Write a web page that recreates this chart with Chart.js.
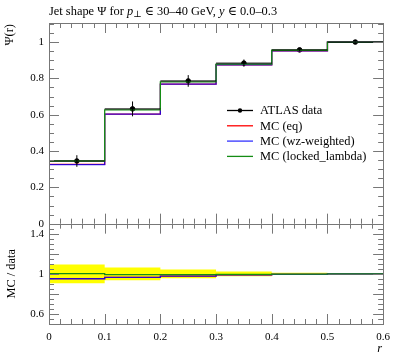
<!DOCTYPE html>
<html>
<head>
<meta charset="utf-8">
<script src="https://cdn.jsdelivr.net/npm/chart.js@4.4.0/dist/chart.umd.min.js"></script>
<style>
  html, body { margin: 0; padding: 0; background: #fff; }
  #wrap { width: 397px; height: 358px; position: relative; }
</style>
</head>
<body>
<div id="wrap"><canvas id="myChart" width="397" height="358"></canvas></div>
<script>
// bins in r
const binEdges = [0, 0.1, 0.2, 0.3, 0.4, 0.5, 0.6];
const binCenters = [0.05, 0.15, 0.25, 0.35, 0.45, 0.55];

// ATLAS data, Psi(r)
const dataVals = [0.345, 0.632, 0.786, 0.884, 0.957, 1.0];
const dataErrs = [0.032, 0.041, 0.032, 0.02, 0.008, 0.003];

// MC predictions
const mcEq = [0.326, 0.603, 0.768, 0.875, 0.952, 1.0];
const mcWz = [0.325, 0.603, 0.768, 0.875, 0.952, 1.0];
const mcLocked = [0.345, 0.627, 0.781, 0.879, 0.955, 1.0];

// ratio panel (MC / data)
const bandLow = [0.905, 0.937, 0.955, 0.975, 0.99, 1.0];
const bandHigh = [1.093, 1.062, 1.042, 1.024, 1.01, 1.0];
const ratioEq = [0.952, 0.965, 0.977, 0.99, 0.995, 1.0];
const ratioWz = [0.951, 0.964, 0.977, 0.99, 0.995, 1.0];
const ratioLocked = [1.003, 0.993, 0.993, 0.995, 0.998, 1.0];

// tick labels
const xTicks = [0, 0.1, 0.2, 0.3, 0.4, 0.5, 0.6];
const mainTicks = [0, 0.2, 0.4, 0.6, 0.8, 1];
const ratioTicks = [0.6, 0.8, 1, 1.2, 1.4];

const SERIF = "'Liberation Serif', 'DejaVu Serif', serif";
const FS = "12.4px ";
const RED = "rgb(255,0,0)";
const BLUE = "rgba(0,0,255,0.8)";
const GREEN = "rgb(20,140,20)";

function steps(vals) {
  const pts = vals.map((v, i) => ({ x: binEdges[i], y: v }));
  pts.push({ x: binEdges[vals.length], y: vals[vals.length - 1] });
  return pts;
}

function fmt(v) {
  return String(Math.round(v * 10) / 10);
}

function histo(label, vals, color, axis, order, legendRow) {
  return {
    type: "line",
    label: label,
    data: steps(vals),
    yAxisID: axis,
    borderColor: color,
    borderWidth: 1.3,
    pointRadius: 0,
    stepped: "before",
    fill: false,
    order: order,
    legendRow: legendRow,
  };
}

const decor = {
  id: "decor",
  afterDatasetsDraw(chart) {
    const ctx = chart.ctx;
    const xs = chart.scales.x;
    chart.data.datasets.forEach((ds) => {
      if (!ds.errY) return;
      const ys = chart.scales[ds.yAxisID];
      ctx.save();
      ctx.strokeStyle = "#000";
      ctx.lineWidth = 1;
      ds.data.forEach((p, j) => {
        const px = xs.getPixelForValue(p.x);
        const py = ys.getPixelForValue(p.y);
        ctx.beginPath();
        ctx.moveTo(px, ys.getPixelForValue(p.y - ds.errY[j]));
        ctx.lineTo(px, ys.getPixelForValue(p.y + ds.errY[j]));
        ctx.moveTo(xs.getPixelForValue(p.x - ds.errX[j]), py);
        ctx.lineTo(xs.getPixelForValue(p.x + ds.errX[j]), py);
        ctx.stroke();
      });
      ctx.restore();
    });
  },
  afterDraw(chart) {
    const ctx = chart.ctx;
    const xs = chart.scales.x;
    const ym = chart.scales.y;
    const yr = chart.scales.y2;
    const L = xs.left, R = xs.right;

    ctx.save();
    ctx.strokeStyle = "#777";
    ctx.lineWidth = 1;

    // frames and ticks for both panels
    [ym, yr].forEach((ys, k) => {
      const T = ys.top, B = ys.bottom;
      ctx.strokeRect(Math.round(L) + 0.5, Math.round(T) + 0.5, Math.round(R - L), Math.round(B - T));
      ctx.beginPath();
      for (let i = 0; i <= 30; i++) {
        const px = Math.round(xs.getPixelForValue(i * 0.02)) + 0.5;
        const len = i % 5 === 0 ? 10 : 5;
        ctx.moveTo(px, B); ctx.lineTo(px, B - len);
        ctx.moveTo(px, T); ctx.lineTo(px, T + len);
      }
      const n = k === 0 ? 22 : 20;
      for (let i = 0; i <= n; i++) {
        let v, major;
        if (k === 0) { v = i * 0.05; major = i % 4 === 0; }
        else { v = 0.5 + i * 0.05; major = (i - 2) % 4 === 0; }
        const py = Math.round(ys.getPixelForValue(v)) + 0.5;
        const len = major ? 10 : 5;
        ctx.moveTo(L, py); ctx.lineTo(L + len, py);
        ctx.moveTo(R, py); ctx.lineTo(R - len, py);
      }
      ctx.stroke();
    });
    ctx.restore();

    // texts
    ctx.save();
    ctx.fillStyle = "#000";
    ctx.textBaseline = "alphabetic";
    const parts = [
      ["Jet shape \u03A8 for ", FS + SERIF, 0],
      ["p", "italic " + FS + SERIF, 0],
      ["\u22A5", "9px " + SERIF, 2],
      [" \u2208 30\u201340 GeV, ", FS + SERIF, 0],
      ["y", "italic " + FS + SERIF, 0],
      [" \u2208 0.0\u20130.3", FS + SERIF, 0],
    ];
    let tx = L;
    parts.forEach(([s, f, dy]) => {
      ctx.font = f;
      ctx.fillText(s, tx, 15 + dy);
      tx += ctx.measureText(s).width;
    });

    // axis labels
    ctx.font = FS + SERIF;
    ctx.save();
    ctx.translate(13, ym.top + 1);
    ctx.rotate(-Math.PI / 2);
    ctx.textAlign = "right";
    ctx.fillText("\u03A8(r)", 0, 0);
    ctx.restore();

    ctx.save();
    ctx.translate(15, (yr.top + yr.bottom) / 2);
    ctx.rotate(-Math.PI / 2);
    ctx.textAlign = "center";
    ctx.fillText("MC / data", 0, 0);
    ctx.restore();

    ctx.font = "italic " + FS + SERIF;
    ctx.textAlign = "right";
    ctx.fillText("r", R - 1, 352);

    // legend
    const lx = 227, lw = 26;
    let ly = 110;
    const rows = chart.data.datasets.filter((d) => d.legendRow !== undefined)
      .sort((a, b) => a.legendRow - b.legendRow);
    ctx.font = FS + SERIF;
    ctx.textAlign = "left";
    ctx.textBaseline = "middle";
    rows.forEach((d) => {
      ctx.strokeStyle = d.errY ? "#000" : d.borderColor;
      ctx.lineWidth = 1.3;
      ctx.beginPath();
      ctx.moveTo(lx, ly + 0.5);
      ctx.lineTo(lx + lw, ly + 0.5);
      ctx.stroke();
      if (d.errY) {
        ctx.fillStyle = "#000";
        ctx.beginPath();
        ctx.arc(lx + lw / 2, ly + 0.5, 2.2, 0, Math.PI * 2);
        ctx.fill();
      }
      ctx.fillStyle = "#000";
      ctx.fillText(d.label, 260, ly + 1);
      ly += 15.3;
    });
    ctx.restore();
  },
};

const datasets = [
  histo("MC (locked_lambda)", mcLocked, GREEN, "y", 0, 3),
  histo("MC (wz-weighted)", mcWz, BLUE, "y", 1, 2),
  histo("MC (eq)", mcEq, RED, "y", 2, 1),
  {
    type: "scatter",
    label: "ATLAS data",
    data: binCenters.map((c, i) => ({ x: c, y: dataVals[i] })),
    yAxisID: "y",
    backgroundColor: "#000",
    borderColor: "#000",
    pointRadius: 2.3,
    pointHoverRadius: 2.3,
    showLine: false,
    errY: dataErrs,
    errX: binCenters.map(() => 0.05),
    order: 3,
    legendRow: 0,
  },
  histo("ratio locked", ratioLocked, GREEN, "y2", 0),
  histo("ratio wz", ratioWz, BLUE, "y2", 1),
  histo("ratio eq", ratioEq, RED, "y2", 2),
  {
    type: "line",
    label: "band high",
    data: steps(bandHigh),
    yAxisID: "y2",
    stepped: "before",
    borderWidth: 0,
    pointRadius: 0,
    backgroundColor: "rgb(255,255,0)",
    fill: "+1",
    order: 10,
  },
  {
    type: "line",
    label: "band low",
    data: steps(bandLow),
    yAxisID: "y2",
    stepped: "before",
    borderWidth: 0,
    pointRadius: 0,
    fill: false,
    order: 11,
  },
];

const tickFont = { family: SERIF, size: 11 };

const ctx = document.getElementById("myChart").getContext("2d");
const myChart = new Chart(ctx, {
  type: "line",
  data: { datasets: datasets },
  plugins: [decor],
  options: {
    responsive: false,
    animation: false,
    devicePixelRatio: 1,
    layout: { padding: { top: 23, right: 13, left: 0, bottom: 0 } },
    plugins: { legend: { display: false }, tooltip: { enabled: false } },
    scales: {
      x: {
        type: "linear",
        min: 0,
        max: 0.6,
        grid: { display: false, drawTicks: false },
        border: { display: false },
        afterBuildTicks: (s) => { s.ticks = xTicks.map((v) => ({ value: v })); },
        afterFit: (s) => { s.height = 34; },
        ticks: { padding: 7, color: "#000", font: tickFont, maxRotation: 0, callback: (v) => fmt(v) },
      },
      y2: {
        type: "linear",
        position: "left",
        stack: "panels",
        stackWeight: 1,
        min: 0.5,
        max: 1.5,
        grid: { display: false, drawTicks: false },
        border: { display: false },
        afterBuildTicks: (s) => { s.ticks = ratioTicks.map((v) => ({ value: v })); },
        afterFit: (s) => { s.width = 49; },
        ticks: { padding: 5, color: "#000", font: tickFont, callback: (v) => fmt(v) },
      },
      y: {
        type: "linear",
        position: "left",
        stack: "panels",
        stackWeight: 2,
        min: 0,
        max: 1.105,
        grid: { display: false, drawTicks: false },
        border: { display: false },
        afterBuildTicks: (s) => { s.ticks = mainTicks.map((v) => ({ value: v })); },
        afterFit: (s) => { s.width = 49; },
        ticks: { padding: 5, color: "#000", font: tickFont, callback: (v) => fmt(v) },
      },
    },
  },
});
</script>
</body>
</html>
